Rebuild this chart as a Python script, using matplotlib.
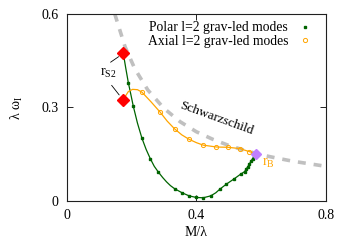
import matplotlib
matplotlib.use("Agg")
import matplotlib.pyplot as plt

plt.rcParams['font.family'] = ['Liberation Serif', 'DejaVu Serif']
plt.rcParams['mathtext.fontset'] = 'custom'
plt.rcParams['mathtext.rm'] = 'Liberation Serif'
plt.rcParams['mathtext.it'] = 'Liberation Serif:italic'

# polar l=2 grav-led modes (green), points with markers
polar_x = [0.190, 0.205, 0.232, 0.258, 0.283, 0.333, 0.356, 0.378, 0.400,
           0.421, 0.444, 0.473, 0.493, 0.517, 0.537, 0.549, 0.554, 0.559, 0.564,
           0.569, 0.574, 0.579]
polar_y = [0.379, 0.305, 0.201, 0.135, 0.092, 0.039, 0.026, 0.016, 0.011,
           0.010, 0.016, 0.038, 0.054, 0.071, 0.086, 0.092, 0.101, 0.110, 0.119,
           0.128, 0.136, 0.144]
# polar curve (line only)
polar_line_x = [0.174, 0.182, 0.190, 0.198, 0.205, 0.218, 0.232, 0.245, 0.258, 0.270,
                0.283, 0.296, 0.308, 0.320, 0.333, 0.356, 0.378, 0.400, 0.421, 0.444,
                0.460, 0.473, 0.493, 0.517, 0.537, 0.549, 0.559, 0.569, 0.579, 0.584]
polar_line_y = [0.476, 0.426, 0.379, 0.340, 0.305, 0.250, 0.201, 0.165, 0.135, 0.111,
                0.092, 0.075, 0.061, 0.049, 0.039, 0.026, 0.016, 0.011, 0.010, 0.016,
                0.026, 0.038, 0.054, 0.071, 0.086, 0.094, 0.110, 0.128, 0.144, 0.152]

# axial l=2 grav-led modes (orange)
axial_x = [0.232, 0.288, 0.333, 0.377, 0.421, 0.462, 0.498, 0.534, 0.564]
axial_y = [0.349, 0.285, 0.231, 0.198, 0.179, 0.173, 0.172, 0.168, 0.158]
axial_line_x = [0.174, 0.182, 0.190, 0.203, 0.218, 0.232, 0.260, 0.288, 0.310, 0.333,
                0.355, 0.377, 0.400, 0.421, 0.462, 0.498, 0.534, 0.564, 0.585]
axial_line_y = [0.324, 0.338, 0.351, 0.358, 0.357, 0.349, 0.318, 0.285, 0.256, 0.231,
                0.212, 0.198, 0.187, 0.179, 0.173, 0.172, 0.168, 0.158, 0.152]

# Schwarzschild reference curve
schw_x = [0.148, 0.18, 0.21, 0.25, 0.30, 0.35, 0.40, 0.45, 0.50, 0.55, 0.60, 0.65, 0.70, 0.75, 0.80]
schw_y = [0.600, 0.494, 0.424, 0.356, 0.297, 0.254, 0.222, 0.198, 0.178, 0.162,
          0.148, 0.137, 0.127, 0.119, 0.111]

# special points
rs2_x = [0.174, 0.174]
rs2_y = [0.476, 0.324]
rb_x, rb_y = 0.584, 0.152

green = '#006400'
orange = '#ffa500'

fig = plt.figure(figsize=(3.5, 2.45), dpi=100)
ax = fig.add_axes([0.191, 0.180, 0.740, 0.763])

ax.plot(schw_x, schw_y, color='#c0c0c0', lw=2.6, dashes=(2.2, 2.2), zorder=1)

ax.plot(polar_line_x, polar_line_y, color=green, lw=0.9, zorder=2)
ax.plot(polar_x, polar_y, ls='none', marker='s', ms=2.1, color=green,
        zorder=3, label='Polar l=2 grav-led modes')

ax.plot(axial_line_x, axial_line_y, color=orange, lw=0.9, zorder=2)
ax.plot(axial_x, axial_y, ls='none', marker='o', ms=3.0, mfc='none',
        mec=orange, mew=0.7, zorder=3, label='Axial l=2 grav-led modes')

ax.plot(rs2_x, rs2_y, ls='none', marker='D', ms=6.3, color='red', zorder=5)
ax.plot([rb_x], [rb_y], ls='none', marker='D', ms=5.4, color='#c080ff', zorder=5)

# annotations
ax.text(0.128, 0.410, r'r$_\mathrm{S2}$', fontsize=10, ha='center', va='center')
ax.annotate('', xy=(0.167, 0.468), xytext=(0.128, 0.440),
            arrowprops=dict(arrowstyle='-', color='black', lw=0.6))
ax.annotate('', xy=(0.167, 0.333), xytext=(0.133, 0.378),
            arrowprops=dict(arrowstyle='-', color='black', lw=0.6))
ax.text(0.624, 0.120, r'r$_\mathrm{B}$', fontsize=10, color=orange, ha='center', va='center')
ax.text(0.462, 0.264, 'Schwarzschild', fontsize=9.5, rotation=-20,
        ha='center', va='center')

ax.set_xlim(0, 0.8)
ax.set_ylim(0, 0.6)
ax.set_xticks([0, 0.4, 0.8])
ax.set_xticklabels(['0', '0.4', '0.8'])
ax.set_yticks([0, 0.3, 0.6])
ax.set_yticklabels(['0', '0.3', '0.6'])
ax.tick_params(direction='in', top=True, right=True, length=4, width=0.6,
               labelsize=10, pad=6)
for s in ax.spines.values():
    s.set_linewidth(0.8)
    s.set_color('#202020')

ax.set_xlabel('M/λ', fontsize=10, labelpad=3)
ax.set_ylabel(r'λ ω$_\mathrm{I}$', fontsize=10, labelpad=12)

ax.legend(loc='upper right', frameon=False, markerfirst=False, fontsize=9.8,
          handlelength=0.5, handletextpad=1.0, labelspacing=0.05,
          borderaxespad=0.2, borderpad=0.35, alignment='right',
          bbox_to_anchor=(0.962, 1.0))

fig.savefig('out.png', dpi=100)
